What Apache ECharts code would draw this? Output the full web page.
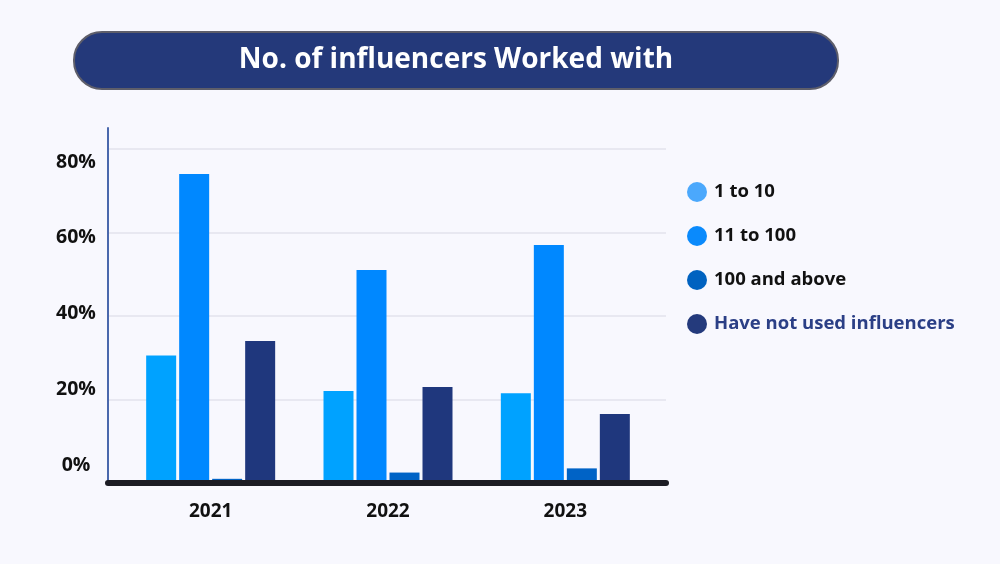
<!DOCTYPE html>
<html>
<head>
<meta charset="utf-8">
<script src="https://cdn.jsdelivr.net/npm/echarts@6/dist/echarts.min.js"></script>
<style>
html,body{margin:0;padding:0;background:#f8f8fe;}
#c{width:1000px;height:564px;}
</style>
</head>
<body>
<div id="c"></div>
<script>
const titleText = 'No. of influencers Worked with';
const categories = ['2021', '2022', '2023'];
const seriesNames = ['1 to 10', '11 to 100', '100 and above', 'Have not used influencers'];
const values1to10 = [30.5, 22, 21.5];
const values11to100 = [74, 51, 57];
const values100above = [1, 2.5, 3.5];
const valuesNotUsed = [34, 23, 16.5];
const yTicks = [0, 20, 40, 60, 80];

const barColors = ['#00a2ff', '#0088ff', '#0063c6', '#1f377d'];
const legendColors = ['#4ba8fc', '#0a8afc', '#0062c0', '#243a7c'];
const legendTextColors = ['#111111', '#111111', '#111111', '#2b3f86'];
const allValues = [values1to10, values11to100, values100above, valuesNotUsed];

const FONT = '"Open Sans", Inter, sans-serif';
const chart = echarts.init(document.getElementById('c'), null, {renderer: 'canvas'});

const option = {
  backgroundColor: '#f8f8fe',
  animation: false,
  graphic: [{
    type: 'rect',
    shape: {x: 74, y: 32, width: 764, height: 57, r: 28},
    style: {fill: '#24397a', stroke: '#5e5e6a', lineWidth: 2},
    textContent: {
      style: {text: titleText, fill: '#ffffff', fontSize: 28, fontWeight: 'bold', fontFamily: FONT}
    },
    textConfig: {position: 'inside'}
  }],
  legend: {
    orient: 'vertical',
    left: 682,
    top: 177,
    icon: 'circle',
    itemWidth: 20,
    itemHeight: 20,
    itemGap: 24,
    textStyle: {fontSize: 18.5, fontWeight: 'bold', fontFamily: FONT, color: '#111', padding: [0, 0, 0, 2]},
    data: seriesNames.map((n, i) => ({
      name: n,
      itemStyle: {color: legendColors[i]},
      textStyle: {color: legendTextColors[i]}
    }))
  },
  grid: [
    {left: 122, right: 346, top: 128, bottom: 81},
    {left: 108, right: 334, top: 128, bottom: 81},
    {left: 108, right: 334, top: 162, bottom: 99}
  ],
  xAxis: [
    {
      type: 'category', gridIndex: 0, data: categories,
      axisLine: {show: false}, axisTick: {show: false},
      axisLabel: {fontSize: 19, fontWeight: 'bold', fontFamily: FONT, color: '#111', margin: 19}
    },
    {
      type: 'value', gridIndex: 1, min: 0, max: 1, z: 10,
      offset: 3,
      axisLine: {show: true, lineStyle: {color: '#1c1c24', width: 6, cap: 'round'}},
      axisTick: {show: false}, axisLabel: {show: false}, splitLine: {show: false}
    },
    {type: 'value', gridIndex: 2, min: 0, max: 1, show: false}
  ],
  yAxis: [
    {type: 'value', gridIndex: 0, min: 0, max: 85, show: false},
    {
      type: 'value', gridIndex: 1, min: 0, max: 85, interval: 20,
      axisLine: {show: true, lineStyle: {color: '#4a68ad', width: 2}},
      axisTick: {show: false},
      splitLine: {show: true, lineStyle: {color: ['#e3e3ec', '#e3e3ec', '#e3e3ec', '#e3e3ec', '#e3e3ec', 'rgba(0,0,0,0)'], width: 1.5}},
      axisLabel: {show: false}
    },
    {
      type: 'value', gridIndex: 2, min: 0, max: 80, interval: 20,
      axisLine: {show: false}, axisTick: {show: false}, splitLine: {show: false},
      axisLabel: {
        fontSize: 19.5, fontWeight: 'bold', fontFamily: FONT, color: '#111',
        align: 'center', margin: 32,
        formatter: v => (yTicks.indexOf(v) >= 0 ? v + '%' : '')
      }
    }
  ],
  series: seriesNames.map((n, i) => ({
    name: n,
    type: 'bar',
    xAxisIndex: 0,
    yAxisIndex: 0,
    data: allValues[i],
    barWidth: 30,
    barGap: '10%',
    itemStyle: {color: barColors[i]},
    z: 2
  }))
};
chart.setOption(option);
</script>
</body>
</html>
